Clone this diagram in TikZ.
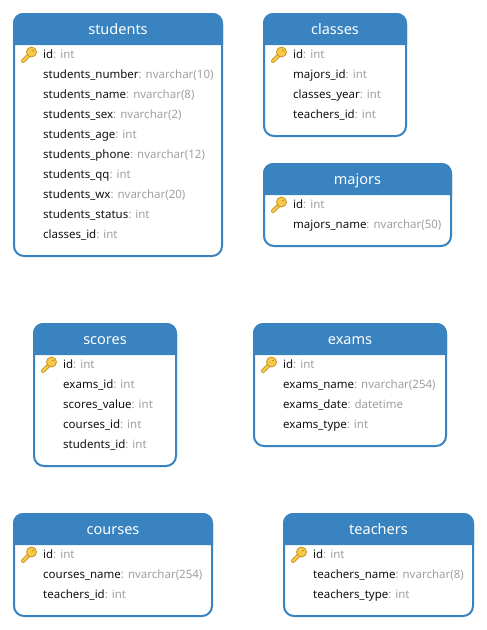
\documentclass[tikz,border=0pt]{standalone}
\usepackage{fontspec}
\setmainfont{Noto Sans}
\definecolor{hdr}{HTML}{3883C0}
\definecolor{typ}{HTML}{A0A0A0}
\definecolor{nam}{HTML}{111111}
\definecolor{keyg}{HTML}{F7C948}
\definecolor{keyd}{HTML}{C9921E}
\tikzset{
  x=1pt,y=-1pt,
  tbox/.style={draw=hdr,line width=2pt,rounded corners=10pt,fill=white,inner sep=0pt,outer sep=0pt,anchor=north west},
  ttitle/.style={text=white,font=\fontsize{14.5}{16}\selectfont,inner sep=0pt,anchor=base},
  trow/.style={font=\fontsize{11.5}{14}\selectfont,inner sep=0pt,anchor=base west},
  keyhead/.style={fill=keyg,draw=keyd,line width=.8pt},
}
\newcommand{\keyicon}[2]{%
  \begin{scope}[shift={(#1,#2)}]
    \draw[keyd,line width=4pt,line cap=round] (2,15) -- (9,8);
    \draw[keyg,line width=2.4pt,line cap=round] (2,15) -- (9,8);
    \draw[keyhead] (10.5,6) circle[radius=5pt];
    \fill[keyd] (12,4.5) circle[radius=1pt];
  \end{scope}}
% name, x0, y0, x1, y1, title, rows (field/type)
\newcommand{\dbtable}[7]{%
  \pgfmathsetmacro{\tw}{#4-#2}
  \pgfmathsetmacro{\th}{#5-#3}
  \node[tbox,minimum width=\tw pt,minimum height=\th pt] (#1) at (#2,#3) {};
  \fill[hdr] (#2-1,#3+31) -- (#2-1,#3+9) arc[start angle=180,end angle=90,radius=10pt] -- (#4-9,#3-1) arc[start angle=90,end angle=0,radius=10pt] -- (#4+1,#3+31) -- cycle;
  \node[ttitle] (#1-title) at ({(#2+#4)/2},#3+20) {#6};
  \keyicon{#2+7}{#3+32}
  \foreach \f/\t [count=\i] in {#7} {
    \node[trow] (#1-row\i) at (#2+29,#3+24+20*\i) {\textcolor{nam}{\f}\textcolor{typ}{: \t}};
  }
}
\begin{document}
\begin{tikzpicture}
\useasboundingbox (0,0) rectangle (487,630);
\fill[white] (0,0) rectangle (487,630);
\dbtable{students}{14}{14}{222}{256}{students}{id/int,students\_number/nvarchar(10),students\_name/nvarchar(8),students\_sex/nvarchar(2),students\_age/int,students\_phone/nvarchar(12),students\_qq/int,students\_wx/nvarchar(20),students\_status/int,classes\_id/int}
\dbtable{classes}{264}{14}{406}{136}{classes}{id/int,majors\_id/int,classes\_year/int,teachers\_id/int}
\dbtable{majors}{264}{164}{451}{246}{majors}{id/int,majors\_name/nvarchar(50)}
\dbtable{scores}{34}{324}{176}{466}{scores}{id/int,exams\_id/int,scores\_value/int,courses\_id/int,students\_id/int}
\dbtable{exams}{254}{324}{446}{446}{exams}{id/int,exams\_name/nvarchar(254),exams\_date/datetime,exams\_type/int}
\dbtable{courses}{14}{514}{212}{616}{courses}{id/int,courses\_name/nvarchar(254),teachers\_id/int}
\dbtable{teachers}{284}{514}{473}{616}{teachers}{id/int,teachers\_name/nvarchar(8),teachers\_type/int}
\end{tikzpicture}
\end{document}
